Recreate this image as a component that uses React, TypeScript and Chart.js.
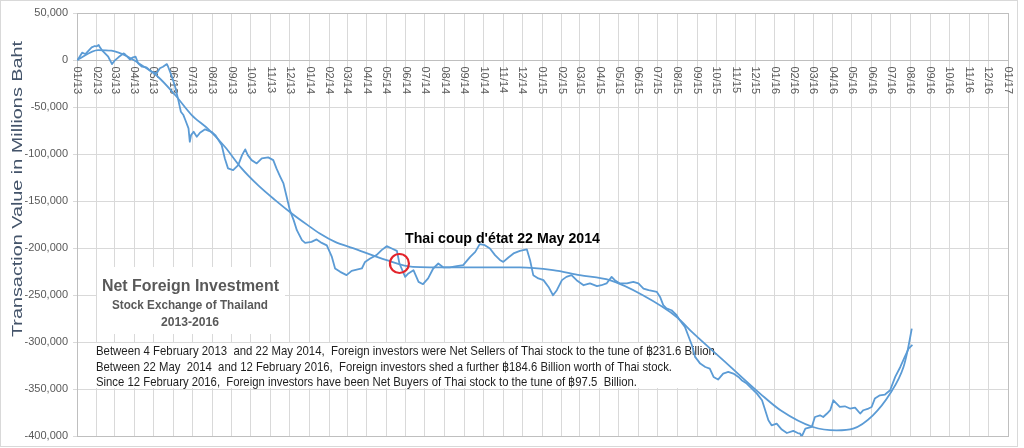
import React, { useEffect, useRef } from "react";
import { Chart, registerables } from "chart.js";

Chart.register(...registerables);

// Days since 1 January 2013 for each observation of cumulative net foreign investment
const DAY_OFFSETS = [
  1, 8, 13, 23, 28, 31, 34, 36, 39, 49, 55, 59, 65, 73, 75, 83, 88, 92, 96, 102,
  109, 117, 125, 130, 135, 141, 143, 149, 154, 159, 163, 167, 170, 175, 177, 179, 183, 188, 193, 201,
  211, 217, 222, 227, 232, 237, 245, 253, 259, 264, 268, 274, 282, 290, 300, 308, 313, 319, 324, 329,
  334, 340, 345, 353, 358, 368, 376, 384, 392, 400, 405, 413, 423, 431, 439, 447, 452, 460, 470, 478,
  486, 494, 502, 506, 515, 520, 528, 536, 543, 551, 559, 567, 575, 585, 596, 606, 617, 625, 632, 640,
  648, 656, 664, 669, 677, 685, 695, 706, 711, 716, 724, 732, 740, 747, 753, 761, 768, 776, 784, 795,
  805, 816, 823, 831, 839, 844, 852, 863, 873, 881, 889, 897, 910, 915, 920, 925, 933, 941, 946, 954,
  959, 965, 970, 978, 986, 993, 999, 1006, 1014, 1022, 1030, 1038, 1043, 1051, 1059, 1067, 1075, 1080, 1085, 1090,
  1098, 1106, 1114, 1124, 1131, 1135, 1137, 1143, 1153, 1158, 1166, 1171, 1177, 1182, 1187, 1192, 1197, 1205, 1213, 1221,
  1229, 1234, 1242, 1247, 1252, 1260, 1268, 1276, 1284, 1292, 1299, 1305, 1311,
];

// Cumulative net foreign investment, millions of baht
const NET_FLOW = [
  0, 7800, 6400, 13500, 14900, 14600, 16000, 13500, 10600, 3500, -4300, -700, 2900, 7100, 6400, 700, 2900, 3500, -3500, -7100,
  -7800, -12400, -14100, -8800, -7100, -4300, -7100, -17800, -28400, -42600, -55000, -58500, -63800, -72700, -86900, -79800, -76300, -81600, -77300, -73700,
  -76300, -79800, -85100, -90400, -104600, -115200, -117000, -111700, -101100, -95000, -101100, -106400, -109900, -104600, -103500, -106400, -115200, -124100, -131200, -145400,
  -159600, -170200, -180900, -191500, -194400, -193300, -190700, -194400, -197000, -209300, -221600, -225200, -228700, -224100, -222700, -221600, -214600, -211000, -207400, -202100,
  -197900, -200300, -202900, -216300, -230500, -226900, -223400, -235800, -238300, -232200, -221600, -216300, -220500, -220500, -219100, -218100, -209300, -203900, -195700, -196800,
  -200300, -207400, -212800, -214600, -209900, -205600, -202900, -201400, -212800, -228700, -232200, -234000, -241200, -250000, -244700, -234000, -230500, -228700, -234000, -239400,
  -237500, -240400, -239400, -237500, -230500, -234000, -237500, -237500, -235800, -237500, -242900, -244700, -246500, -251800, -260600, -264100, -266000, -271300, -276600, -283700,
  -292600, -303200, -315600, -322700, -326300, -328000, -336900, -339700, -333300, -331600, -333300, -336900, -340400, -343900, -349300, -354600, -361700, -372300, -383000, -388300,
  -386500, -392900, -396500, -394300, -396500, -397100, -400700, -391800, -390100, -379500, -377700, -379500, -375800, -372300, -361700, -365200, -368800, -368100, -370500, -369500,
  -375800, -372300, -370500, -368800, -359900, -356400, -355600, -351100, -336900, -326300, -315600, -306700, -302900,
];

// Polynomial trend line
const TREND_DAYS = [
  0, 33, 54, 80, 101, 127, 154, 180, 206, 232, 258, 284, 311, 337, 362, 381, 405, 433, 486, 527,
  590, 695, 747, 789, 836, 888, 941, 967, 1020, 1072, 1104, 1155, 1192, 1218, 1249, 1276, 1297, 1304, 1310,
];
const TREND_VALUES = [
  0, 10600, 9900, 3500, -5300, -17800, -37200, -58500, -73400, -92200, -114900, -133000, -148900, -163100, -175500, -184400, -193300, -200000, -212800, -219900,
  -220500, -220500, -223400, -228700, -234000, -250000, -273100, -290400, -322700, -354600, -372300, -390100, -393600, -391800, -377700, -354600, -326300, -307000, -285500,
];

// Coup d'état marker (22 May 2014)
const COUP_DAYS = [506];
const COUP_VALUES = [-216300];

const MONTH_TICK_LABELS = [
  "01/13", "02/13", "03/13", "04/13", "05/13", "06/13", "07/13", "08/13", "09/13", "10/13", "11/13", "12/13",
  "01/14", "02/14", "03/14", "04/14", "05/14", "06/14", "07/14", "08/14", "09/14", "10/14", "11/14", "12/14",
  "01/15", "02/15", "03/15", "04/15", "05/15", "06/15", "07/15", "08/15", "09/15", "10/15", "11/15", "12/15",
  "01/16", "02/16", "03/16", "04/16", "05/16", "06/16", "07/16", "08/16", "09/16", "10/16", "11/16", "12/16",
  "01/17",
];

const Y_MIN = -400000;
const Y_MAX = 50000;
const Y_STEP = 50000;

const Y_AXIS_TITLE = "Transaction Value in Millions Baht";
const COUP_LABEL = "Thai coup d'état 22 May 2014";
const TITLE_LINES = ["Net Foreign Investment", "Stock Exchange of Thailand", "2013-2016"];
const NOTE_LINES = [
  "Between 4 February 2013  and 22 May 2014,  Foreign investors were Net Sellers of Thai stock to the tune of \u0e3f231.6 Billion.",
  "Between 22 May  2014  and 12 February 2016,  Foreign investors shed a further \u0e3f184.6 Billion worth of Thai stock.",
  "Since 12 February 2016,  Foreign investors have been Net Buyers of Thai stock to the tune of \u0e3f97.5  Billion.",
];

const BASE = Date.UTC(2013, 0, 1);
const MONTH_DAYS = MONTH_TICK_LABELS.map((_, i) =>
  Math.round((Date.UTC(2013 + Math.floor(i / 12), i % 12, 1) - BASE) / 86400000)
);
const X_MAX = MONTH_DAYS[MONTH_DAYS.length - 1];

const LINE_BLUE = "#5b9bd5";
const GRID = "#d9d9d9";
const FONT = "'Liberation Sans', Arial, sans-serif";

function drawFitted(
  ctx: CanvasRenderingContext2D,
  text: string,
  x: number,
  y: number,
  font: string,
  targetW: number,
  align: "left" | "center"
) {
  ctx.save();
  ctx.font = font;
  ctx.textAlign = "left";
  ctx.textBaseline = "alphabetic";
  const w = ctx.measureText(text).width;
  const sx = w > 0 ? targetW / w : 1;
  const startX = align === "center" ? x - targetW / 2 : x;
  ctx.translate(startX, y);
  ctx.scale(sx, 1);
  ctx.fillText(text, 0, 0);
  ctx.restore();
}

const decorPlugin = {
  id: "decor",
  beforeDraw(chart: any) {
    const { ctx, width, height } = chart;
    ctx.save();
    ctx.fillStyle = "#ffffff";
    ctx.fillRect(0, 0, width, height);
    ctx.restore();
  },
  beforeDatasetsDraw(chart: any) {
    const { ctx, chartArea, scales } = chart;
    const xs = scales.x;
    const ys = scales.y;
    ctx.save();
    // plot border
    ctx.strokeStyle = "#bfbfbf";
    ctx.lineWidth = 1;
    ctx.strokeRect(
      Math.round(chartArea.left) + 0.5,
      Math.round(chartArea.top) + 0.5,
      Math.round(chartArea.right - chartArea.left),
      Math.round(chartArea.bottom - chartArea.top)
    );
    // horizontal axis line at zero
    const y0 = Math.round(ys.getPixelForValue(0)) + 0.5;
    ctx.beginPath();
    ctx.moveTo(chartArea.left, y0);
    ctx.lineTo(chartArea.right, y0);
    ctx.stroke();
    // month labels, rotated clockwise, hanging below the zero line
    ctx.fillStyle = "#595959";
    ctx.font = `11px ${FONT}`;
    ctx.textAlign = "left";
    ctx.textBaseline = "middle";
    MONTH_DAYS.forEach((d, i) => {
      const px = xs.getPixelForValue(d);
      ctx.save();
      ctx.translate(px, y0 + 6);
      ctx.rotate(Math.PI / 2);
      ctx.fillText(MONTH_TICK_LABELS[i], 0, 0);
      ctx.restore();
    });
    // title box
    ctx.fillStyle = "#ffffff";
    ctx.fillRect(97, 267, 188, 67);
    ctx.fillStyle = "#595959";
    drawFitted(ctx, TITLE_LINES[0], 190.5, 291, `bold 16px ${FONT}`, 177, "center");
    drawFitted(ctx, TITLE_LINES[1], 190, 309, `bold 12.5px ${FONT}`, 156, "center");
    drawFitted(ctx, TITLE_LINES[2], 190, 326, `bold 12.5px ${FONT}`, 58, "center");
    // notes box
    ctx.fillStyle = "#ffffff";
    ctx.fillRect(90, 343, 632, 45);
    ctx.fillStyle = "#1f1f1f";
    drawFitted(ctx, NOTE_LINES[0], 96, 355, `13px ${FONT}`, 622, "left");
    drawFitted(ctx, NOTE_LINES[1], 96, 370.5, `13px ${FONT}`, 576, "left");
    drawFitted(ctx, NOTE_LINES[2], 96, 386, `13px ${FONT}`, 541, "left");
    ctx.restore();
  },
  afterDraw(chart: any) {
    const { ctx, width, height } = chart;
    ctx.save();
    // coup label
    ctx.fillStyle = "#000000";
    drawFitted(ctx, COUP_LABEL, 405, 243, `bold 14px ${FONT}`, 195, "left");
    // y axis title
    ctx.fillStyle = "#44546a";
    ctx.save();
    ctx.translate(22, 189);
    ctx.rotate(-Math.PI / 2);
    drawFitted(ctx, Y_AXIS_TITLE, 0, 0, `14px ${FONT}`, 296, "center");
    ctx.restore();
    // outer chart border
    ctx.strokeStyle = "#d9d9d9";
    ctx.lineWidth = 1;
    ctx.strokeRect(0.5, 0.5, width - 7, height - 2);
    ctx.restore();
  },
};

export default function App() {
  const canvasRef = useRef<HTMLCanvasElement | null>(null);

  useEffect(() => {
    const canvas = canvasRef.current;
    if (!canvas) return;
    const chart = new Chart(canvas, {
      type: "line",
      data: {
        datasets: [
          {
            label: "Coup",
            data: COUP_DAYS.map((d, i) => ({ x: d, y: COUP_VALUES[i] })),
            showLine: false,
            pointRadius: 9.5,
            pointHoverRadius: 9.5,
            pointBorderWidth: 2.2,
            borderColor: "#e3242b",
            pointBorderColor: "#e3242b",
            backgroundColor: "rgba(0,0,0,0)",
            pointBackgroundColor: "rgba(0,0,0,0)",
            order: 0,
          },
          {
            label: "Net foreign investment",
            data: DAY_OFFSETS.map((d, i) => ({ x: d, y: NET_FLOW[i] })),
            borderColor: LINE_BLUE,
            borderWidth: 1.8,
            borderJoinStyle: "round",
            pointRadius: 0,
            tension: 0,
            fill: false,
            order: 2,
          },
          {
            label: "Trend",
            data: TREND_DAYS.map((d, i) => ({ x: d, y: TREND_VALUES[i] })),
            borderColor: LINE_BLUE,
            borderWidth: 1.8,
            pointRadius: 0,
            cubicInterpolationMode: "monotone",
            fill: false,
            order: 1,
          },
        ],
      },
      options: {
        animation: false,
        responsive: false,
        maintainAspectRatio: false,
        devicePixelRatio: 1,
        layout: { padding: { left: 0, top: 13, right: 16, bottom: 11 } },
        plugins: {
          legend: { display: false },
          tooltip: { enabled: false },
        },
        events: [],
        scales: {
          x: {
            type: "linear",
            min: 0,
            max: X_MAX,
            afterBuildTicks: (s: any) => {
              s.ticks = MONTH_DAYS.map((v) => ({ value: v }));
            },
            afterFit: (s: any) => {
              s.height = 0;
            },
            ticks: { display: false },
            grid: { color: GRID, drawTicks: false, lineWidth: 1 },
            border: { display: false },
          },
          y: {
            type: "linear",
            min: Y_MIN,
            max: Y_MAX,
            afterFit: (s: any) => {
              s.width = 77;
            },
            ticks: {
              stepSize: Y_STEP,
              color: "#595959",
              padding: 5,
              font: { family: "'Liberation Sans', Arial, sans-serif", size: 11 },
              callback: (v: any) => Number(v).toLocaleString("en-US"),
            },
            grid: { color: GRID, tickLength: 4, lineWidth: 1 },
            border: { display: false },
          },
        },
      },
      plugins: [decorPlugin],
    });
    return () => chart.destroy();
  }, []);

  return (
    <div style={{ position: "absolute", left: 0, top: 0, width: 1024, height: 448, background: "#fff" }}>
      <canvas ref={canvasRef} width={1024} height={448} style={{ display: "block", width: 1024, height: 448 }} />
    </div>
  );
}
